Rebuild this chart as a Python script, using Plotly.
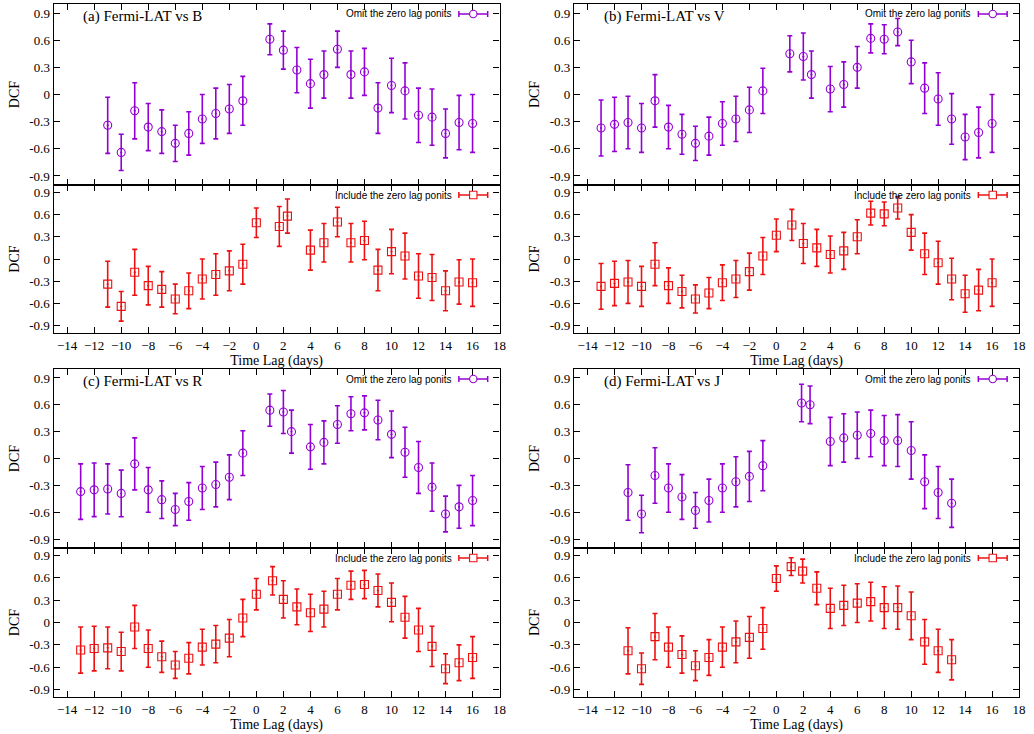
import plotly.graph_objects as go

# ---------------- data ----------------
# (a) Fermi-LAT vs B
lag_a_omit = [-11, -10, -9, -8, -7, -6, -5, -4, -3, -2, -1, 1, 2, 3, 4, 5, 6, 7, 8, 9, 10, 11, 12, 13, 14, 15, 16]
dcf_a_omit = [-0.34, -0.64, -0.18, -0.36, -0.41, -0.54, -0.43, -0.27, -0.21, -0.16, -0.07, 0.61, 0.49, 0.27,
              0.12, 0.22, 0.50, 0.22, 0.25, -0.15, 0.10, 0.04, -0.23, -0.25, -0.43, -0.31, -0.32]
err_a_omit = [0.31, 0.20, 0.31, 0.26, 0.24, 0.20, 0.24, 0.27, 0.28, 0.27, 0.27, 0.17, 0.21, 0.25,
              0.27, 0.26, 0.20, 0.26, 0.26, 0.28, 0.30, 0.31, 0.30, 0.31, 0.27, 0.30, 0.32]
lag_a_incl = [-11, -10, -9, -8, -7, -6, -5, -4, -3, -2, -1, 0, 1.7, 2.3, 4, 5, 6, 7, 8, 9, 10, 11, 12, 13, 14, 15, 16]
dcf_a_incl = [-0.34, -0.64, -0.18, -0.36, -0.41, -0.54, -0.43, -0.27, -0.21, -0.16, -0.07, 0.49, 0.44, 0.58,
              0.12, 0.22, 0.50, 0.22, 0.25, -0.15, 0.10, 0.04, -0.23, -0.25, -0.43, -0.31, -0.32]
err_a_incl = [0.31, 0.20, 0.31, 0.26, 0.24, 0.20, 0.24, 0.27, 0.28, 0.27, 0.27, 0.20, 0.27, 0.23,
              0.27, 0.26, 0.20, 0.26, 0.26, 0.28, 0.30, 0.31, 0.30, 0.31, 0.27, 0.30, 0.32]

# (b) Fermi-LAT vs V
lag_b_omit = [-13, -12, -11, -10, -9, -8, -7, -6, -5, -4, -3, -2, -1, 1, 2, 2.6,
              4, 5, 6, 7, 8, 9, 10, 11, 12, 13, 14, 15, 16]
dcf_b_omit = [-0.37, -0.33, -0.31, -0.37, -0.07, -0.36, -0.44, -0.54, -0.46, -0.32, -0.27, -0.17, 0.04,
              0.45, 0.42, 0.22,
              0.06, 0.11, 0.30, 0.62, 0.61, 0.69, 0.36, 0.07, -0.05, -0.27, -0.47, -0.42, -0.32]
err_b_omit = [0.31, 0.30, 0.29, 0.27, 0.29, 0.24, 0.22, 0.19, 0.21, 0.24, 0.25, 0.25, 0.25,
              0.20, 0.26, 0.26,
              0.25, 0.25, 0.23, 0.16, 0.16, 0.15, 0.24, 0.28, 0.29, 0.28, 0.25, 0.28, 0.32]
lag_b_incl = [-13, -12, -11, -10, -9, -8, -7, -6, -5, -4, -3, -2, -1, 0, 1.15, 2, 3,
              4, 5, 6, 7, 8, 9, 10, 11, 12, 13, 14, 15, 16]
dcf_b_incl = [-0.37, -0.33, -0.31, -0.37, -0.07, -0.36, -0.44, -0.54, -0.46, -0.32, -0.27, -0.17, 0.04,
              0.32, 0.46, 0.21, 0.15,
              0.06, 0.11, 0.30, 0.62, 0.61, 0.69, 0.36, 0.07, -0.05, -0.27, -0.47, -0.42, -0.32]
err_b_incl = [0.31, 0.30, 0.29, 0.27, 0.29, 0.24, 0.22, 0.19, 0.21, 0.24, 0.25, 0.25, 0.25,
              0.22, 0.21, 0.27, 0.25,
              0.25, 0.25, 0.23, 0.16, 0.16, 0.15, 0.24, 0.28, 0.29, 0.28, 0.25, 0.28, 0.32]

# (c) Fermi-LAT vs R
lag_c_omit = [-13, -12, -11, -10, -9, -8, -7, -6, -5, -4, -3, -2, -1, 1, 2, 2.6,
              4, 5, 6, 7, 8, 9, 10, 11, 12, 13, 14, 15, 16]
dcf_c_omit = [-0.37, -0.35, -0.34, -0.39, -0.06, -0.35, -0.46, -0.57, -0.48, -0.33, -0.29, -0.21, 0.06,
              0.54, 0.52, 0.30,
              0.13, 0.18, 0.38, 0.50, 0.51, 0.43, 0.27, 0.07, -0.10, -0.32, -0.62, -0.54, -0.47]
err_c_omit = [0.31, 0.30, 0.28, 0.26, 0.29, 0.25, 0.21, 0.18, 0.21, 0.24, 0.25, 0.25, 0.25,
              0.18, 0.24, 0.24,
              0.25, 0.24, 0.21, 0.19, 0.19, 0.22, 0.26, 0.28, 0.29, 0.27, 0.20, 0.24, 0.28]
lag_c_incl = [-13, -12, -11, -10, -9, -8, -7, -6, -5, -4, -3, -2, -1, 0, 1.2, 2, 3,
              4, 5, 6, 7, 8, 9, 10, 11, 12, 13, 14, 15, 16]
dcf_c_incl = [-0.37, -0.35, -0.34, -0.39, -0.06, -0.35, -0.46, -0.57, -0.48, -0.33, -0.29, -0.21, 0.06,
              0.38, 0.56, 0.31, 0.21,
              0.13, 0.18, 0.38, 0.50, 0.51, 0.43, 0.27, 0.07, -0.10, -0.32, -0.62, -0.54, -0.47]
err_c_incl = [0.31, 0.30, 0.28, 0.26, 0.29, 0.25, 0.21, 0.18, 0.21, 0.24, 0.25, 0.25, 0.25,
              0.21, 0.19, 0.25, 0.24,
              0.25, 0.24, 0.21, 0.19, 0.19, 0.22, 0.26, 0.28, 0.29, 0.27, 0.20, 0.24, 0.28]

# (d) Fermi-LAT vs J
lag_d_omit = [-11, -10, -9, -8, -7, -6, -5, -4, -3, -2, -1, 1.87, 2.5, 4, 5, 6, 7, 8, 9, 10, 11, 12, 13]
dcf_d_omit = [-0.38, -0.62, -0.19, -0.33, -0.43, -0.58, -0.47, -0.33, -0.26, -0.20, -0.08, 0.62, 0.60,
              0.19, 0.23, 0.26, 0.28, 0.20, 0.20, 0.09, -0.26, -0.38, -0.50]
err_d_omit = [0.31, 0.21, 0.31, 0.27, 0.25, 0.20, 0.24, 0.27, 0.28, 0.28, 0.28, 0.21, 0.21,
              0.27, 0.27, 0.26, 0.26, 0.28, 0.29, 0.32, 0.30, 0.29, 0.27]
lag_d_incl = [-11, -10, -9, -8, -7, -6, -5, -4, -3, -2, -1, 0, 1.1, 1.95, 3, 4, 5, 6, 7, 8, 9, 10, 11, 12, 13]
dcf_d_incl = [-0.38, -0.62, -0.19, -0.33, -0.43, -0.58, -0.47, -0.33, -0.26, -0.20, -0.08, 0.59, 0.75, 0.69, 0.46,
              0.19, 0.23, 0.26, 0.28, 0.20, 0.20, 0.09, -0.26, -0.38, -0.50]
err_d_incl = [0.31, 0.21, 0.31, 0.27, 0.25, 0.20, 0.24, 0.27, 0.28, 0.28, 0.28, 0.17, 0.12, 0.16, 0.22,
              0.27, 0.27, 0.26, 0.26, 0.28, 0.29, 0.32, 0.30, 0.29, 0.27]

panel_titles = ["(a) Fermi-LAT vs B", "(b) Fermi-LAT vs V", "(c) Fermi-LAT vs R", "(d) Fermi-LAT vs J"]
legend_omit = "Omit the zero lag ponits"
legend_incl = "Include the zero lag ponits"
x_tickvals = list(range(-14, 19, 2))
y_tickvals = [-0.9, -0.6, -0.3, 0, 0.3, 0.6, 0.9]
y_ticktext = ["-0.9", "-0.6", "-0.3", "0", "0.3", "0.6", "0.9"]
x_label = "Time Lag (days)"
y_label = "DCF"

series = [
    (lag_a_omit, dcf_a_omit, err_a_omit, lag_a_incl, dcf_a_incl, err_a_incl),
    (lag_b_omit, dcf_b_omit, err_b_omit, lag_b_incl, dcf_b_incl, err_b_incl),
    (lag_c_omit, dcf_c_omit, err_c_omit, lag_c_incl, dcf_c_incl, err_c_incl),
    (lag_d_omit, dcf_d_omit, err_d_omit, lag_d_incl, dcf_d_incl, err_d_incl),
]

# ---------------- layout helpers ----------------
W, H = 1034, 734
PURPLE = "#9400d3"
RED = "#ee1010"
SERIF = "Liberation Serif, Times New Roman, serif"
SANS = "Liberation Sans, Arial, sans-serif"


def px(p):
    return p / W


def py(p):
    return 1 - p / H


# (left, right, top, middle, bottom) in pixels
frames = [(54, 503, 4, 185, 333), (578, 1026, 4, 185, 333),
          (54, 503, 369, 548, 697), (578, 1026, 369, 548, 697)]

fig = go.Figure()
shapes = []
annotations = []
layout = {}

for i, (fr, s) in enumerate(zip(frames, series)):
    L, R, T, M, B = fr
    lo, do, eo, li, di, ei = s
    for j, (xs, ys, es, color, sym, name, y0, y1) in enumerate([
        (lo, do, eo, PURPLE, "circle-open-dot", legend_omit, T, M),
        (li, di, ei, RED, "square-open-dot", legend_incl, M, B),
    ]):
        k = 2 * i + j + 1
        xa = "x" if k == 1 else f"x{k}"
        ya = "y" if k == 1 else f"y{k}"
        fig.add_trace(go.Scatter(
            x=xs, y=ys, mode="markers", name=name, showlegend=False,
            xaxis=xa, yaxis=ya,
            marker=dict(symbol=sym, size=8, color=color, line=dict(width=1.1, color=color)),
            error_y=dict(type="data", array=es, visible=True, color=color, thickness=1.6, width=2.5),
        ))
        bottom = (j == 1)
        layout["xaxis" if k == 1 else f"xaxis{k}"] = dict(
            domain=[px(L), px(R)], anchor=ya, range=[-15, 18],
            tickvals=x_tickvals, showticklabels=bottom,
            ticks="inside", ticklen=6, tickwidth=1, tickcolor="black",
            showline=True, linecolor="black", linewidth=1.3, mirror="ticks",
            showgrid=False, zeroline=False,
            tickfont=dict(family=SERIF, size=13, color="black"),
            title=dict(text=x_label if bottom else "", font=dict(family=SERIF, size=14, color="black"), standoff=2),
        )
        layout["yaxis" if k == 1 else f"yaxis{k}"] = dict(
            domain=[py(y1), py(y0)], anchor=xa, range=[-1.0, 1.0],
            tickvals=y_tickvals, ticktext=y_ticktext,
            ticks="inside", ticklen=6, tickwidth=1, tickcolor="black",
            showline=True, linecolor="black", linewidth=1.3, mirror="ticks",
            showgrid=False, zeroline=False,
            tickfont=dict(family=SERIF, size=13, color="black"),
            title=dict(text=y_label, font=dict(family=SERIF, size=14, color="black"), standoff=6),
        )
        # legend key (gnuplot style: text left of sample)
        ly = y0 + 10
        annotations.append(dict(
            xref="paper", yref="paper", x=px(R - 46), y=py(ly), xanchor="right", yanchor="middle",
            text=name, showarrow=False, font=dict(family=SANS, size=10, color="black")))
        xa0, xa1 = R - 41, R - 12
        shapes.append(dict(type="line", xref="paper", yref="paper", x0=px(xa0), x1=px(xa1),
                           y0=py(ly), y1=py(ly), line=dict(color=color, width=1.5)))
        for xc in (xa0, xa1):
            shapes.append(dict(type="line", xref="paper", yref="paper", x0=px(xc), x1=px(xc),
                               y0=py(ly - 3), y1=py(ly + 3), line=dict(color=color, width=1.5)))
        mc = (xa0 + xa1) / 2
        shapes.append(dict(type="circle" if j == 0 else "rect", xref="paper", yref="paper",
                           x0=px(mc - 3.7), x1=px(mc + 3.7), y0=py(ly - 3.7), y1=py(ly + 3.7),
                           line=dict(color=color, width=1.1), fillcolor="white"))
    annotations.append(dict(
        xref="paper", yref="paper", x=px(L + 28), y=py(T + 12.5), xanchor="left", yanchor="middle",
        text=panel_titles[i], showarrow=False, font=dict(family=SERIF, size=15, color="black")))

fig.update_layout(
    width=W, height=H, autosize=False,
    margin=dict(l=0, r=0, t=0, b=0),
    paper_bgcolor="white", plot_bgcolor="white",
    shapes=shapes, annotations=annotations, showlegend=False,
    **layout,
)

fig.write_html("out.html")
